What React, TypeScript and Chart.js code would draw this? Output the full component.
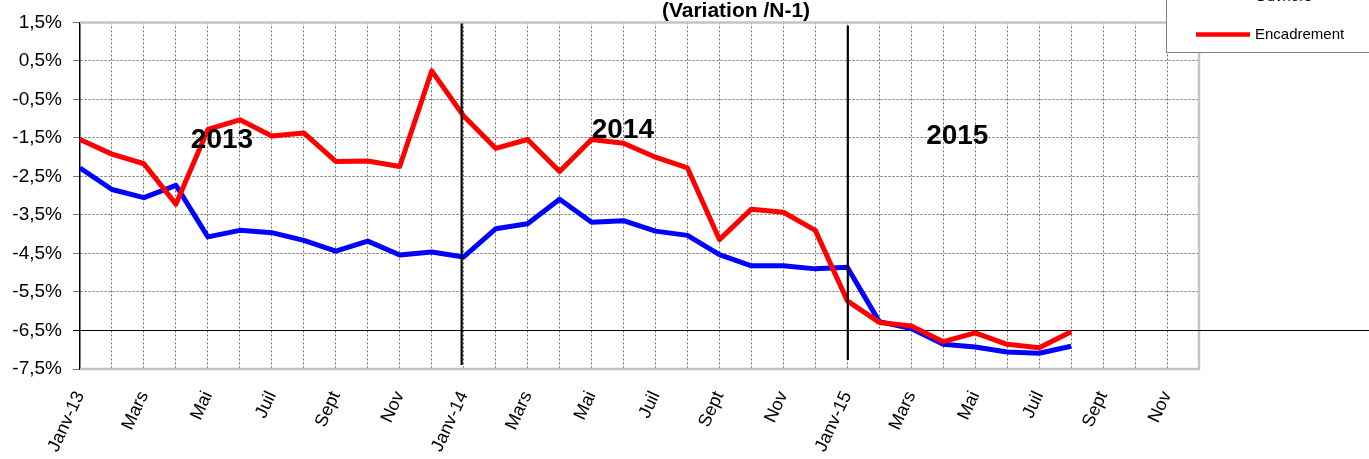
import React, { useEffect, useRef } from "react";
import { Chart, registerables } from "chart.js";

Chart.register(...registerables);

const months = [
  "Janv-13", "Févr-13", "Mars-13", "Avr-13", "Mai-13", "Juin-13", "Juil-13", "Août-13", "Sept-13", "Oct-13", "Nov-13", "Déc-13",
  "Janv-14", "Févr-14", "Mars-14", "Avr-14", "Mai-14", "Juin-14", "Juil-14", "Août-14", "Sept-14", "Oct-14", "Nov-14", "Déc-14",
  "Janv-15", "Févr-15", "Mars-15", "Avr-15", "Mai-15", "Juin-15", "Juil-15", "Août-15", "Sept-15", "Oct-15", "Nov-15", "Déc-15",
];

const tickLabels = [
  "Janv-13", "", "Mars", "", "Mai", "", "Juil", "", "Sept", "", "Nov", "",
  "Janv-14", "", "Mars", "", "Mai", "", "Juil", "", "Sept", "", "Nov", "",
  "Janv-15", "", "Mars", "", "Mai", "", "Juil", "", "Sept", "", "Nov", "",
];

const ouvriers = [
  -2.28, -2.84, -3.05, -2.73, -4.07, -3.9, -3.96, -4.16, -4.44, -4.18, -4.54, -4.46,
  -4.59, -3.86, -3.73, -3.09, -3.69, -3.65, -3.92, -4.03, -4.53, -4.82, -4.82, -4.9,
  -4.86, -6.27, -6.45, -6.86, -6.93, -7.06, -7.09, -6.91, null, null, null, null,
];

const encadrement = [
  -1.54, -1.92, -2.17, -3.22, -1.28, -1.03, -1.45, -1.37, -2.11, -2.1, -2.24, 0.24,
  -0.93, -1.77, -1.54, -2.37, -1.54, -1.64, -2.0, -2.28, -4.14, -3.35, -3.43, -3.9,
  -5.73, -6.29, -6.38, -6.79, -6.56, -6.86, -6.95, -6.53, null, null, null, null,
];

const seriesNames = ["Ouvriers", "Encadrement"];
const seriesColors = ["#0000ff", "#ff0000"];
const yearStartIndices = [12, 24];
const yearLabels = ["2013", "2014", "2015"];
const titleText = "(Variation /N-1)";
const yMin = -7.5;
const yMax = 1.5;
const referenceLine = -6.5;

const FONT = "Arial, 'Liberation Sans', sans-serif";

const overlayPlugin = {
  id: "overlay",
  beforeDatasetsDraw(chart: any) {
    const { ctx, chartArea: a, scales } = chart;
    const y = scales.y;
    ctx.save();
    // plot frame (grey)
    ctx.strokeStyle = "#c4c4c4";
    ctx.lineWidth = 2.5;
    ctx.beginPath();
    ctx.moveTo(a.left, a.top);
    ctx.lineTo(a.right, a.top);
    ctx.lineTo(a.right, a.bottom);
    ctx.lineTo(a.left, a.bottom);
    ctx.stroke();
    // reference line
    const yr = Math.round(y.getPixelForValue(referenceLine)) + 0.5;
    ctx.strokeStyle = "#000";
    ctx.lineWidth = 1.2;
    ctx.beginPath();
    ctx.moveTo(a.left - 7, yr);
    ctx.lineTo(chart.width, yr);
    ctx.stroke();
    ctx.restore();
  },
  afterDatasetsDraw(chart: any) {
    const { ctx, chartArea: a, scales } = chart;
    const x = scales.x;
    const y = scales.y;
    ctx.save();
    // year separators
    ctx.strokeStyle = "#000";
    ctx.lineWidth = 2.2;
    const sepOffsets = [-2, 0.5];
    const sepTops = [a.top + 1, a.top + 3];
    const sepBottoms = [a.bottom - 4, a.bottom - 9];
    yearStartIndices.forEach((idx, i) => {
      const px = x.getPixelForValue(idx) + sepOffsets[i];
      ctx.beginPath();
      ctx.moveTo(px, sepTops[i]);
      ctx.lineTo(px, sepBottoms[i]);
      ctx.stroke();
    });
    // year labels
    const yearPos = [
      [4.44, -1.77],
      [16.98, -1.51],
      [27.44, -1.66],
    ];
    ctx.fillStyle = "#000";
    ctx.font = `bold 28px ${FONT}`;
    ctx.textAlign = "center";
    ctx.textBaseline = "alphabetic";
    yearLabels.forEach((t, i) => {
      ctx.fillText(t, x.getPixelForValue(yearPos[i][0]), y.getPixelForValue(yearPos[i][1]));
    });
    // title
    ctx.font = `bold 21px ${FONT}`;
    const tw = ctx.measureText(titleText).width;
    const tx = 736;
    ctx.fillStyle = "#fff";
    ctx.fillRect(tx - tw / 2 - 2, 0, tw + 4, 18.5);
    ctx.fillStyle = "#000";
    ctx.fillText(titleText, tx, 16.5);
    // legend box
    ctx.fillStyle = "#fff";
    ctx.fillRect(1166.5, -5, 220, 57.5);
    ctx.strokeStyle = "#808080";
    ctx.lineWidth = 1;
    ctx.strokeRect(1166.5, -5, 220, 57.5);
    const legendY = [-3, 34.5];
    ctx.font = `15px ${FONT}`;
    ctx.textAlign = "left";
    ctx.textBaseline = "middle";
    seriesNames.forEach((name, i) => {
      ctx.strokeStyle = seriesColors[i];
      ctx.lineWidth = 4.5;
      ctx.beginPath();
      ctx.moveTo(1196, legendY[i]);
      ctx.lineTo(1250, legendY[i]);
      ctx.stroke();
      ctx.fillStyle = "#000";
      ctx.fillText(name, 1255, legendY[i]);
    });
    ctx.restore();
  },
};

export default function App() {
  const canvasRef = useRef<HTMLCanvasElement | null>(null);

  useEffect(() => {
    document.body.style.margin = "0";
    const canvas = canvasRef.current;
    if (!canvas) return;
    const chart = new Chart(canvas, {
      type: "line",
      data: {
        labels: months,
        datasets: [
          {
            label: seriesNames[0],
            data: ouvriers,
            borderColor: seriesColors[0],
            backgroundColor: seriesColors[0],
            borderWidth: 5,
            pointRadius: 0,
            tension: 0,
            order: 1,
            borderJoinStyle: "round",
          },
          {
            label: seriesNames[1],
            data: encadrement,
            borderColor: seriesColors[1],
            backgroundColor: seriesColors[1],
            borderWidth: 5,
            pointRadius: 0,
            tension: 0,
            order: 0,
            borderJoinStyle: "round",
          },
        ],
      },
      options: {
        responsive: false,
        animation: false,
        layout: { padding: { top: 17, right: 170, left: 0, bottom: 0 } },
        plugins: {
          legend: { display: false },
          title: { display: false },
          tooltip: { enabled: false },
        },
        scales: {
          x: {
            type: "category",
            offset: false,
            afterFit: (s: any) => {
              s.height = 90;
            },
            grid: {
              color: (c: any) => (c.index === 0 || c.index === months.length - 1 ? "rgba(0,0,0,0)" : "#6a6a6a"),
              lineWidth: 1,
              drawTicks: false,
            },
            border: { display: false, dash: [2, 2] },
            ticks: {
              autoSkip: false,
              maxRotation: 65,
              minRotation: 65,
              padding: 19,
              color: "#000",
              font: { family: FONT, size: 18 },
              callback: (_v: any, i: number) => tickLabels[i],
            },
          },
          y: {
            min: yMin,
            max: yMax,
            afterFit: (s: any) => {
              s.width = 80;
            },
            grid: {
              color: (c: any) => {
                const v = c.tick ? c.tick.value : 0;
                return Math.abs(v - yMin) < 1e-6 || Math.abs(v - yMax) < 1e-6 || Math.abs(v - referenceLine) < 1e-6
                  ? "rgba(0,0,0,0)"
                  : "#6a6a6a";
              },
              lineWidth: 1,
              drawTicks: true,
              tickLength: 7,
              tickColor: "#777",
              tickBorderDash: [],
            },
            border: { display: true, color: "#000", width: 1.5, dash: [2, 2] },
            ticks: {
              stepSize: 1,
              padding: 11,
              color: "#000",
              font: { family: FONT, size: 19 },
              callback: (v: any) => Number(v).toFixed(1).replace(".", ",") + "%",
            },
          },
        },
      },
      plugins: [overlayPlugin],
    });
    return () => chart.destroy();
  }, []);

  return (
    <div style={{ width: 1369, height: 459, position: "relative", background: "#fff" }}>
      <canvas ref={canvasRef} width={1369} height={459} style={{ display: "block" }} />
    </div>
  );
}
